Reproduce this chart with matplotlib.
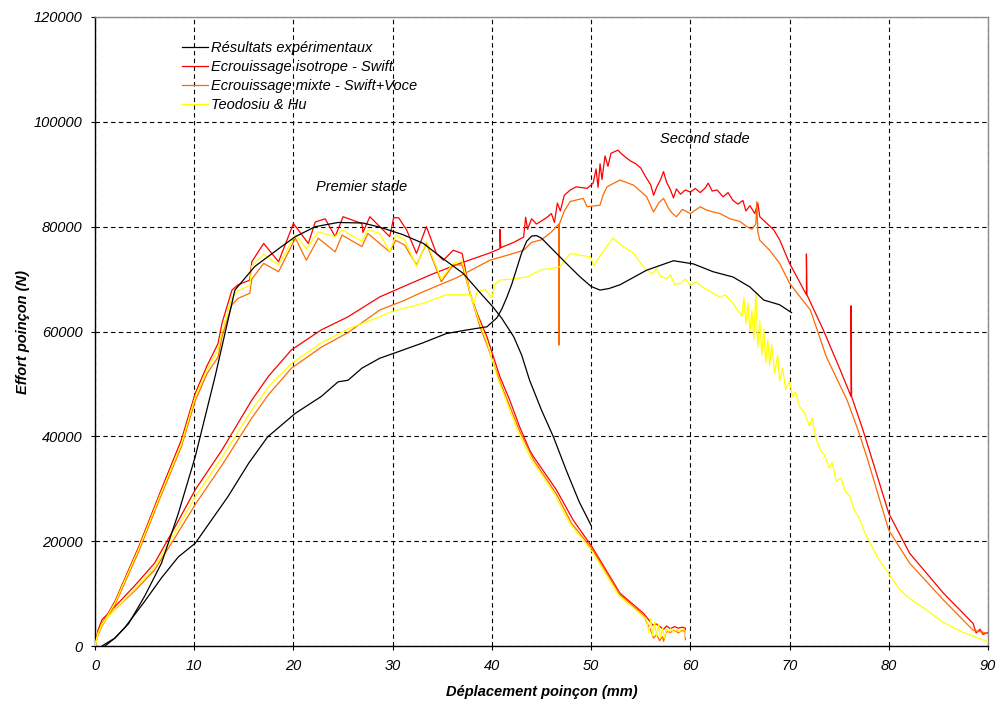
import matplotlib
matplotlib.use("Agg")
import matplotlib.pyplot as plt

plt.rcParams['font.family'] = ['Liberation Sans', 'DejaVu Sans']

# --- data (x in mm, y in N) ---

# experimental, first stage
exp1_x = [0.7, 2, 3.4, 5, 6.7, 8.4, 10.1, 12.1, 14.1, 16.1, 18.8, 20.2, 22.2, 24.5, 27, 28.7,
          31, 33.1, 35, 37.1, 39, 40.1, 41, 42.2, 43, 43.8, 45, 46.2, 47.5, 48.8, 50]
exp1_y = [0, 1500, 4300, 9500, 15800, 25300, 36100, 51400, 67900, 72400, 76200, 78100, 80000,
          80800, 80700, 79900, 78500, 76800, 74000, 71100, 67000, 64700, 62500, 59000, 55500,
          50700, 45000, 39900, 33500, 27500, 23000]

# experimental, second stage
exp2_x = [1, 2, 3, 5, 6.7, 8.4, 10.1, 13.4, 15.5, 17.4, 20.2, 22.8, 24.5, 25.5, 26.9, 28.7,
          30.2, 33, 35.4, 37.5, 39.5, 40.5, 41.0, 41.5, 42.0, 42.5, 43.0, 43.5, 44.0, 44.5,
          45.0, 46.2, 47.5, 48.9, 50.0, 50.9, 51.8, 52.9, 55.6, 58.3, 60.3, 62.3, 64.3, 66,
          67.4, 69.0, 70.2]
exp2_y = [0, 1500, 3500, 8500, 13000, 17000, 19600, 28500, 34900, 39900, 44400, 47600, 50400,
          50700, 53000, 54900, 55900, 57800, 59600, 60300, 60900, 62600, 64300, 66500, 69000,
          72000, 75000, 77200, 78200, 78300, 77800, 75500, 73000, 70400, 68600, 67900, 68200,
          68900, 71700, 73500, 72900, 71400, 70400, 68500, 66000, 65100, 63600]

# isotropic hardening (Swift), first stage
iso1_x = [0, 0.3, 0.7, 2, 4.4, 6.5, 8.7, 10.1, 11.3, 12.4, 12.8, 13.8, 14.4, 15.6, 15.8, 17.0,
          18.5, 20.0, 21.5, 22.2, 23.2, 24.2, 25.0, 26.9, 27.0, 27.7, 29.7, 30.1, 30.6, 31.4,
          32.4, 33.4, 34.4, 35.1, 36.1, 37.0, 37.8, 38.5, 39.5, 40.8, 41.8, 42.8, 43.8, 44.2,
          46.5, 48.2, 50.1, 52.9, 55.3, 55.8, 56.2, 56.6, 57.0, 57.3, 57.6, 58.0, 58.4, 58.8,
          59.2, 59.5, 59.5]
iso1_y = [0, 2500, 4200, 8500, 18900, 29000, 39300, 48200, 53500, 57700, 61600, 67900, 68900,
          69800, 73300, 76800, 73300, 80600, 76800, 80900, 81500, 78100, 81900, 80600, 78900,
          81900, 78100, 81700, 81700, 79400, 74900, 80000, 74900, 73600, 75500, 74900, 67300,
          63500, 59000, 51400, 46900, 41800, 37400, 36100, 29800, 24000, 18900, 10100, 6200,
          5000, 4000, 4200, 3600, 3200, 3800, 3300, 3700, 3400, 3600, 3400, 1800]

# isotropic hardening (Swift), second stage
iso2_x = [0, 0.3, 0.7, 2.0, 4.0, 6.0, 8.0, 10.1, 12.8, 15.8, 17.5, 19.8, 22.8, 25.5, 28.7, 31,
          33.8, 36.5, 39.8, 40.8, 40.8, 40.9, 42.2, 43.2, 43.4, 43.6, 44, 44.5, 45.5, 46, 46.3,
          46.6, 46.9, 47.3, 47.9, 48.5, 49.6, 50.2, 50.5, 50.7, 50.9, 51.1, 51.4, 51.7, 52.0,
          52.7, 53.0, 53.5, 54.0, 54.5, 55.0, 55.5, 56.0, 56.3, 56.6, 57.0, 57.3, 57.6, 58.0,
          58.3, 58.6, 59.0, 59.5, 60.0, 60.5, 61.0, 61.5, 61.8, 62.2, 62.7, 63.3, 63.8, 64.3,
          64.8, 65.3, 65.6, 66.0, 66.5, 66.8, 67.0, 67.5, 68.4, 69.0, 70.0, 71.0, 71.7, 71.7,
          71.75, 73.4, 75.1, 76.2, 76.2, 76.25, 77.4, 78.5, 80.0, 82.1, 85.5, 88.5, 88.8, 89.2,
          89.5, 90]
iso2_y = [0, 3000, 5000, 7500, 11500, 15800, 22500, 29800, 37400, 46900, 51500, 56500, 60300,
          62800, 66600, 68500, 70800, 72800, 75000, 75800, 79500, 76000, 77000, 78000, 81800,
          79500, 81500, 80500, 81700, 82500, 80800, 84500, 83000, 86000, 87000, 87600, 87300,
          88300, 91000, 87500, 92000, 89000, 93500, 91500, 94000, 94600, 94000, 93200, 92500,
          92000, 91200, 89500, 88000, 86000, 87500, 89000, 90500, 88500, 87000, 85500, 87200,
          86200, 87000, 86600, 87300, 86500, 87400, 88300, 86800, 87000, 85700, 86500, 85000,
          84300, 85000, 83000, 84000, 82500, 84500, 81900, 81000, 79400, 77500, 73000, 69500,
          67000, 74800, 67000, 60300, 52700, 47600, 64900, 47600, 41200, 34500, 25300, 17700,
          10100, 4300, 2500, 3200, 2200, 2600]

# mixed hardening (Swift+Voce), first stage
mix1_x = [0, 0.3, 0.7, 2, 4.4, 6.5, 8.7, 10.1, 11.3, 12.4, 12.8, 13.8, 14.4, 15.6, 15.8, 17.0,
          18.5, 20.2, 21.3, 22.5, 24.2, 24.9, 26.9, 27.5, 29.7, 30.3, 31.2, 32.4, 33.4, 34.9,
          36.1, 37.0, 38.0, 38.8, 39.5, 40.8, 42.8, 44.2, 46.5, 48.0, 50.1, 52.9, 55.3, 55.6,
          56.0, 56.3, 56.6, 56.9, 57.2, 57.3, 57.6, 58.0, 58.4, 58.8, 59.2, 59.5, 59.5]
mix1_y = [0, 2000, 3800, 7800, 18000, 28000, 38000, 46800, 52000, 55100, 59000, 65100, 66300,
          67300, 70000, 73000, 71400, 77800, 73600, 77800, 75200, 78400, 76200, 78700, 75200,
          77400, 76500, 72700, 76800, 69500, 72700, 72700, 66000, 60900, 57500, 50500, 41000,
          35500, 29000, 23500, 18500, 9800, 5800, 4500, 3000, 1500, 2200, 1000, 1800, 900,
          2800, 2600, 3000, 2500, 3000, 2700, 1200]

# mixed hardening (Swift+Voce), second stage
mix2_x = [0, 0.3, 0.7, 2.0, 4.0, 6.0, 8.0, 10.1, 12.8, 15.8, 17.5, 19.8, 22.8, 25.5, 28.7, 31,
          33.1, 36.5, 39.8, 42, 43.2, 44, 45, 46, 46.5, 46.75, 46.75, 46.8, 47.3, 47.9, 49.2,
          49.6, 50.9, 51.2, 51.6, 52.9, 54.3, 55.6, 56.0, 56.3, 56.8, 57.3, 57.8, 58.2, 58.6,
          59.2, 60.0, 61.0, 61.6, 62.3, 63.0, 64.0, 65.0, 65.7, 66.2, 66.6, 66.7, 66.8, 67.0,
          68.0, 69.0, 70.0, 71.1, 72.1, 73.7, 75.8, 76.9, 77.8, 80.0, 82.1, 85.5, 88.5, 90]
mix2_y = [0, 2500, 4500, 7000, 10500, 14500, 20500, 27000, 34500, 43500, 48000, 53000, 57000,
          59800, 64100, 65800, 67600, 70300, 73600, 74800, 75500, 77000, 77500, 79000, 80000,
          80500, 57400, 80500, 83000, 84800, 85400, 83800, 84100, 86000, 87600, 88900, 87900,
          85700, 84000, 82800, 84500, 85400, 83500, 82500, 81900, 83300, 82500, 83800, 83200,
          82800, 82500, 81500, 81000, 80000, 79500, 80500, 84800, 79000, 77400, 75500, 73000,
          69200, 66500, 64100, 55200, 46900, 41200, 36000, 22100, 15800, 8800, 3000, 2400]

# Teodosiu & Hu, first stage
teo1_x = [0, 0.3, 0.7, 2, 4.4, 6.5, 8.7, 10.1, 11.3, 12.4, 12.8, 13.8, 14.4, 15.6, 15.8, 17.0,
          18.5, 20.2, 21.3, 22.5, 24.2, 24.9, 26.9, 27.5, 28.7, 29.7, 30.3, 31.2, 32.4, 33.4,
          34.9, 36.1, 37.0, 38.0, 38.8, 39.5, 40.6, 42.6, 44.0, 46.3, 47.8, 50.0, 52.8, 55.3,
          55.6, 55.8, 56.0, 56.2, 56.4, 56.6, 56.8, 57.0, 57.2, 57.4, 57.6, 57.8, 58.0, 58.3,
          58.6, 58.9, 59.2, 59.5, 59.5]
teo1_y = [0, 2300, 4000, 8200, 18500, 28500, 38500, 47500, 52800, 56500, 60000, 66500, 67800,
          68800, 72500, 74700, 72700, 78400, 75800, 79000, 78100, 79400, 77200, 79400, 78700,
          75200, 78400, 77500, 72400, 77200, 70000, 73000, 73500, 66000, 61500, 58000, 51000,
          41000, 35500, 29000, 23500, 18300, 9600, 5600, 4800, 2500, 5200, 2000, 4500, 1800,
          4200, 1600, 3500, 1500, 3200, 2800, 3300, 2600, 3200, 2700, 3300, 2900, 1800]

# Teodosiu & Hu, second stage
teo2_x = [0, 0.3, 0.7, 2.0, 4.0, 6.0, 8.0, 10.1, 12.8, 15.8, 17.5, 19.8, 22.8, 25.5, 28.7, 29.9,
          33.1, 35.4, 37.8, 38.2, 38.5, 39.3, 40.0, 40.3, 40.8, 42, 43.5, 45, 46, 46.9, 47.3,
          47.9, 49.0, 49.9, 50.3, 50.6, 51.3, 52.2, 53.0, 54.3, 55.0, 55.6, 56.2, 56.6, 57.0,
          57.6, 58.0, 58.4, 59.0, 59.5, 60.0, 60.6, 61.2, 62.3, 63.0, 63.5, 64.3, 64.8, 65.2,
          65.4, 65.6, 65.8, 66.0, 66.2, 66.4, 66.6, 66.8, 67.0, 67.2, 67.4, 67.6, 67.8, 68.0,
          68.2, 68.5, 68.8, 69.0, 69.3, 69.6, 70.0, 70.3, 70.6, 71.0, 71.5, 72.0, 72.3, 72.6,
          73.1, 73.5, 74.0, 74.3, 74.7, 75.2, 75.6, 76.1, 76.5, 77.0, 77.5, 78.0, 79.0, 80.0,
          81.0, 82.0, 83.8, 85.5, 87.5, 90]
teo2_y = [0, 2300, 4200, 7000, 10800, 15000, 21500, 28500, 36000, 45000, 49500, 53900, 57800,
          60500, 62800, 63800, 65400, 67000, 67000, 65500, 67500, 68000, 66500, 69000, 69800,
          70000, 70400, 71800, 72000, 72400, 73500, 74900, 74500, 74300, 72500, 73600, 75500,
          77800, 76500, 74900, 73000, 71700, 71000, 72000, 70500, 70100, 70800, 69000, 69200,
          70000, 68800, 69500, 68500, 67300, 66500, 67000, 65400, 64000, 63000, 66500, 61500,
          65500, 60000, 64000, 58500, 67500, 57000, 62000, 55500, 60500, 54000, 58500, 53500,
          57500, 52000, 55500, 50500, 53000, 49000, 50500, 47500, 48500, 45700, 44500, 42000,
          43500, 40000, 37400, 36500, 34000, 35000, 31500, 32000, 29500, 28500, 26000, 24500,
          22000, 20000, 16500, 13800, 11000, 9200, 6900, 4500, 2600, 800]

labels = ["Résultats expérimentaux", "Ecrouissage isotrope - Swift",
          "Ecrouissage mixte - Swift+Voce", "Teodosiu & Hu"]
colors = ["#000000", "#FF0000", "#FF6A00", "#FFFF00"]

fig = plt.figure(figsize=(9.97, 7.02), dpi=100)
ax = fig.add_axes([95 / 997, 1 - 646 / 702, 893 / 997, 629 / 702])

lw = 0.9
ax.plot(iso1_x, iso1_y, color=colors[1], lw=lw, label=labels[1], zorder=3)
ax.plot(iso2_x, iso2_y, color=colors[1], lw=lw, zorder=3)
ax.plot(mix1_x, mix1_y, color=colors[2], lw=lw, label=labels[2], zorder=4)
ax.plot(mix2_x, mix2_y, color=colors[2], lw=lw, zorder=4)
ax.plot(teo1_x, teo1_y, color=colors[3], lw=lw, label=labels[3], zorder=5)
ax.plot(teo2_x, teo2_y, color=colors[3], lw=lw, zorder=5)
ax.plot(exp1_x, exp1_y, color=colors[0], lw=lw, label=labels[0], zorder=6)
ax.plot(exp2_x, exp2_y, color=colors[0], lw=lw, zorder=6)

ax.set_xlim(0, 90)
ax.set_ylim(0, 120000)
ax.set_xticks(range(0, 91, 10))
ax.set_yticks(range(0, 120001, 20000))
ax.grid(True, color="black", linestyle=(0, (4, 3)), linewidth=0.8)
ax.tick_params(direction="out", length=3, width=0.8, labelsize=10.5, pad=6)
for lab in ax.get_xticklabels() + ax.get_yticklabels():
    lab.set_style("italic")
for s in ["top", "right"]:
    ax.spines[s].set_color("#8c8c8c")
    ax.spines[s].set_linewidth(1.0)
for s in ["left", "bottom"]:
    ax.spines[s].set_linewidth(1.0)

ax.set_xlabel("Déplacement poinçon (mm)", fontsize=10.5, fontweight="bold", style="italic",
              labelpad=9)
ax.set_ylabel("Effort poinçon (N)", fontsize=10.5, fontweight="bold", style="italic",
              labelpad=3)

ax.text(26.9, 87500, "Premier stade", fontsize=10.5, style="italic", ha="center", va="center")
ax.text(61.5, 96700, "Second stade", fontsize=10.5, style="italic", ha="center", va="center")

handles, labs = ax.get_legend_handles_labels()
order = [labs.index(l) for l in labels]
leg = ax.legend([handles[i] for i in order], [labs[i] for i in order],
                loc="upper left", bbox_to_anchor=(175 / 997, 1 - 34 / 702),
                bbox_transform=fig.transFigure, frameon=False,
                handlelength=1.75, handletextpad=0.2, labelspacing=0.33, borderpad=0,
                prop={"style": "italic", "size": 10.5})

fig.savefig("out.png", dpi=100)
